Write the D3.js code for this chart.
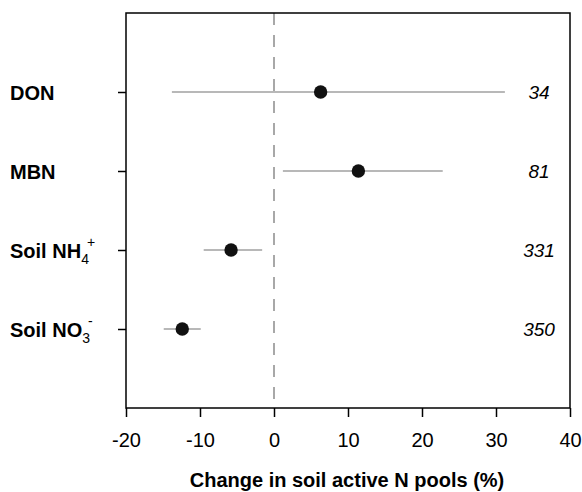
<!DOCTYPE html>
<html>
<head>
<meta charset="utf-8">
<script src="https://cdn.jsdelivr.net/npm/d3@7"></script>
<style>
  body { margin: 0; background: #fff; }
  svg { font-family: "Liberation Sans", Arial, sans-serif; }
</style>
</head>
<body>
<div id="chart"></div>
<script>
// response variables, top to bottom
const pools = ["DON", "MBN", "NH4", "NO3"];
const means = [6.3, 11.4, -5.8, -12.4];
const lower = [-13.8, 1.2, -9.5, -14.9];
const upper = [31.2, 22.8, -1.6, -9.9];
const sampleSizes = ["34", "81", "331", "350"];
const xTicks = [-20, -10, 0, 10, 20, 30, 40];

const width = 582, height = 492;
const box = { left: 126, right: 570, top: 13, bottom: 408 };

const svg = d3.select("#chart")
  .append("svg")
    .attr("width", width)
    .attr("height", height);

const x = d3.scaleLinear().domain([-20, 40]).range([box.left, box.right]);
const y = d3.scalePoint().domain(pools).range([92, 329]);

// dashed zero line
svg.append("line")
  .attr("x1", x(0)).attr("x2", x(0))
  .attr("y1", box.top).attr("y2", box.bottom)
  .attr("stroke", "#a8a8a8")
  .attr("stroke-width", 2)
  .attr("stroke-dasharray", "12,10");

// frame
svg.append("rect")
  .attr("x", box.left).attr("y", box.top)
  .attr("width", box.right - box.left)
  .attr("height", box.bottom - box.top)
  .attr("fill", "none")
  .attr("stroke", "#000")
  .attr("stroke-width", 1.5);

// x axis
const xAxis = svg.append("g")
  .attr("transform", `translate(0,${box.bottom})`)
  .call(d3.axisBottom(x).tickValues(xTicks).tickSize(9).tickPadding(16).tickFormat(d3.format("d")));
xAxis.select(".domain").remove();
xAxis.selectAll("line").attr("stroke", "#000").attr("stroke-width", 1.5);
xAxis.selectAll("text")
  .attr("font-size", 20)
  .attr("font-family", "Liberation Sans, Arial, sans-serif")
  .attr("fill", "#000")
  .text(d => d < 0 ? "-" + Math.abs(d) : d);

// y ticks
const yAxis = svg.append("g")
  .attr("transform", `translate(${box.left},0)`)
  .call(d3.axisLeft(y).tickSize(8).tickFormat(""));
yAxis.select(".domain").remove();
yAxis.selectAll("line").attr("stroke", "#000").attr("stroke-width", 1.5);

// category labels (with sub/superscripts)
const labels = svg.append("g")
  .attr("font-weight", "bold")
  .attr("font-size", 20);

function addLabel(name, base, sub, sup) {
  const t = labels.append("text")
    .attr("x", 10)
    .attr("y", y(name) + 8);
  t.append("tspan").text(base);
  if (sub) {
    t.append("tspan").attr("font-size", 14).attr("font-weight", "normal").attr("dy", 6).text(sub);
    t.append("tspan").attr("font-size", 14).attr("font-weight", "normal").attr("dx", -2).attr("dy", -17).text(sup);
  }
}
addLabel("DON", "DON");
addLabel("MBN", "MBN");
addLabel("NH4", "Soil NH", "4", "+");
addLabel("NO3", "Soil NO", "3", "-");

const rows = pools.map((p, i) => ({ pool: p, mean: means[i], lo: lower[i], hi: upper[i], n: sampleSizes[i] }));

// confidence intervals
svg.selectAll(".ci")
  .data(rows).enter()
  .append("line")
    .attr("class", "ci")
    .attr("x1", d => x(d.lo))
    .attr("x2", d => x(d.hi))
    .attr("y1", d => y(d.pool))
    .attr("y2", d => y(d.pool))
    .attr("stroke", "#a0a0a0")
    .attr("stroke-width", 1.5);

// means
svg.selectAll(".pt")
  .data(rows).enter()
  .append("circle")
    .attr("class", "pt")
    .attr("cx", d => x(d.mean))
    .attr("cy", d => y(d.pool))
    .attr("r", 6.7)
    .attr("fill", "#111");

// sample sizes
svg.selectAll(".n")
  .data(rows).enter()
  .append("text")
    .attr("class", "n")
    .attr("x", 539)
    .attr("y", d => y(d.pool) + 7)
    .attr("text-anchor", "middle")
    .attr("font-style", "italic")
    .attr("font-size", 19)
    .text(d => d.n);

// axis title
svg.append("text")
  .attr("x", 347)
  .attr("y", 487)
  .attr("text-anchor", "middle")
  .attr("font-weight", "bold")
  .attr("font-size", 20)
  .text("Change in soil active N pools (%)");
</script>
</body>
</html>
